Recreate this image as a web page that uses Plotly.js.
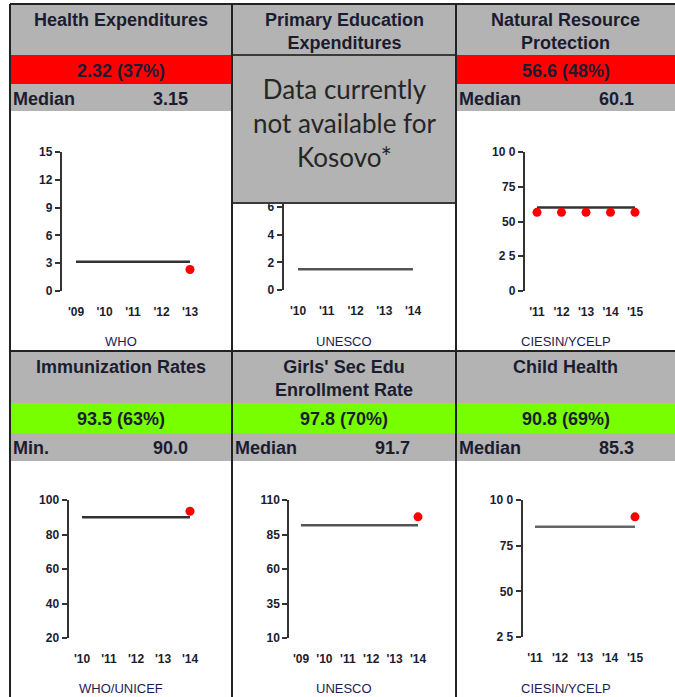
<!DOCTYPE html>
<html><head><meta charset="utf-8">
<script src="https://cdn.plot.ly/plotly-3.0.1.min.js"></script>
<style>html,body{margin:0;padding:0;background:#fff;}#chart{width:675px;height:697px;}</style>
</head><body><div id="chart"></div>
<script>
// ---- header texts ----
const panelTitles = ["Health Expenditures", "Primary Education<br>Expenditures", "Natural Resource<br>Protection",
                     "Immunization Rates", "Girls' Sec Edu<br>Enrollment Rate", "Child Health"];
const scoreLabels = ["2.32 (37%)", null, "56.6 (48%)", "93.5 (63%)", "97.8 (70%)", "90.8 (69%)"];
const benchmarkNames = ["Median", null, "Median", "Min.", "Median", "Median"];
const benchmarkLabels = ["3.15", null, "60.1", "90.0", "91.7", "85.3"];
const sources = ["WHO", "UNESCO", "CIESIN/YCELP", "WHO/UNICEF", "UNESCO", "CIESIN/YCELP"];
const unavailableNote = "Data currently<br>not available for<br>Kosovo*";

// ---- series ----
const healthYears = [2009, 2010, 2011, 2012, 2013];
const healthValues = [null, null, null, null, 2.32];
const healthMedian = 3.15;

const primaryEduYears = [2010, 2011, 2012, 2013, 2014];
const primaryEduValues = [null, null, null, null, null];
const primaryEduMedian = 1.5;

const natResYears = [2011, 2012, 2013, 2014, 2015];
const natResValues = [56.6, 56.6, 56.6, 56.6, 56.6];
const natResMedian = 60.1;

const immunYears = [2010, 2011, 2012, 2013, 2014];
const immunValues = [null, null, null, null, 93.5];
const immunMin = 90.0;

const girlsYears = [2009, 2010, 2011, 2012, 2013, 2014];
const girlsValues = [null, null, null, null, null, 97.8];
const girlsMedian = 91.7;

const childYears = [2011, 2012, 2013, 2014, 2015];
const childValues = [null, null, null, null, 90.8];
const childMedian = 85.3;

// ---- y tick labels ----
const healthYTicks = [0, 3, 6, 9, 12, 15];
const primaryEduYTicks = [0, 2, 4, 6, 8, 10];
const natResYTicks = [0, 25, 50, 75, 100];
const natResYTickText = ["0", "2 5", "50", "75", "10 0"];
const immunYTicks = [20, 40, 60, 80, 100];
const girlsYTicks = [10, 35, 60, 85, 110];
const childYTicks = [25, 50, 75, 100];
const childYTickText = ["2 5", "50", "75", "10 0"];

// ---- layout geometry (pixels) ----
const W = 675, H = 697;
const px = x => x / W, py = y => 1 - y / H;
const panels = [
  {years: healthYears, values: healthValues, ref: healthMedian, yt: healthYTicks, ytt: null, xd: [61.75, 204.25], yd: [152, 291], lc: '#333'},
  {years: primaryEduYears, values: primaryEduValues, ref: primaryEduMedian, yt: primaryEduYTicks, ytt: null, xd: [283.6, 427.4], yd: [152, 290], lc: '#555'},
  {years: natResYears, values: natResValues, ref: natResMedian, yt: natResYTicks, ytt: natResYTickText, xd: [524.75, 647.25], yd: [152, 291], lc: '#333'},
  {years: immunYears, values: immunValues, ref: immunMin, yt: immunYTicks, ytt: null, xd: [68.5, 203.5], yd: [500, 638], lc: '#333'},
  {years: girlsYears, values: girlsValues, ref: girlsMedian, yt: girlsYTicks, ytt: null, xd: [289.3, 429.7], yd: [500, 638], lc: '#555'},
  {years: childYears, values: childValues, ref: childMedian, yt: childYTicks, ytt: childYTickText, xd: [522.5, 647.5], yd: [500, 637], lc: '#666'}
];
const cols = [[10, 232], [232, 456], [456, 675]];
const TXT = '#1c1c30';
const GRAY = '#b3b3b3';
const FAM = 'Liberation Sans, Arial, sans-serif';

const data = [];
const layout = {
  width: W, height: H, margin: {l: 0, r: 0, t: 0, b: 0},
  paper_bgcolor: '#fff', plot_bgcolor: '#fff', showlegend: false,
  font: {family: FAM, color: TXT},
  shapes: [], annotations: []
};

panels.forEach((p, i) => {
  const n = i + 1, xa = 'x' + (n === 1 ? '' : n), ya = 'y' + (n === 1 ? '' : n);
  data.push({x: [p.years[0], p.years[p.years.length - 1]], y: [p.ref, p.ref], xaxis: xa, yaxis: ya,
             mode: 'lines', line: {color: p.lc, width: 2.5}, hoverinfo: 'skip'});
  data.push({x: p.years, y: p.values, xaxis: xa, yaxis: ya, mode: 'markers',
             marker: {color: '#ff0000', size: 9}, hoverinfo: 'skip'});
  const yMin = p.yt[0], yMax = p.yt[p.yt.length - 1];
  layout['xaxis' + (n === 1 ? '' : n)] = {
    domain: [px(p.xd[0]), px(p.xd[1])], anchor: ya,
    range: [p.years[0] - 0.5, p.years[p.years.length - 1] + 0.5],
    tickvals: p.years, ticktext: p.years.map(y => "'" + String(y).slice(2)),
    showgrid: false, zeroline: false, showline: false, ticks: '',
    ticklabelstandoff: 12,
    tickfont: {family: FAM, size: 12, color: TXT, weight: 700}
  };
  layout['yaxis' + (n === 1 ? '' : n)] = {
    domain: [py(p.yd[1]), py(p.yd[0])], anchor: xa,
    range: [yMin, yMax], tickvals: p.yt, ticktext: p.ytt || p.yt.map(String),
    showgrid: false, zeroline: false, showline: true, linecolor: '#333', linewidth: 2,
    ticks: 'outside', ticklen: 5, tickwidth: 2, tickcolor: '#333',
    tickfont: {family: FAM, size: 12, color: TXT, weight: 700}
  };
});

function rect(x0, y0, x1, y1, fill, line) {
  layout.shapes.push({type: 'rect', xref: 'paper', yref: 'paper', x0: px(x0), x1: px(x1), y0: py(y1), y1: py(y0),
    fillcolor: fill, line: line || {width: 0}, layer: 'above'});
}
function seg(x0, y0, x1, y1, color, width) {
  layout.shapes.push({type: 'line', xref: 'paper', yref: 'paper', x0: px(x0), x1: px(x1), y0: py(y0), y1: py(y1),
    line: {color: color, width: width}, layer: 'above'});
}
function text(t, x, y, opts) {
  layout.annotations.push(Object.assign({text: t, xref: 'paper', yref: 'paper', x: px(x), y: py(y),
    showarrow: false, xanchor: 'center', yanchor: 'middle',
    font: {family: FAM, size: 18, color: TXT, weight: 700}}, opts || {}));
}

const rows = [{top: 4, bar: [55, 84], med: [84, 111], color: '#ff0000', titleY: [20, 31.5], srcY: 341},
              {top: 352, bar: [403, 433], med: [433, 461], color: '#77ff00', titleY: [367, 378], srcY: 688}];

panels.forEach((p, i) => {
  const r = rows[Math.floor(i / 3)], c = cols[i % 3];
  const cx = (c[0] + c[1]) / 2;
  const twoLine = panelTitles[i].indexOf('<br>') >= 0;
  if (scoreLabels[i] === null) {
    rect(c[0], r.top, c[1], r.bar[0], GRAY);
    rect(c[0], r.bar[0], c[1], 203, GRAY, {color: '#3a3a3a', width: 2});
    text(unavailableNote, cx, 123, {font: {family: 'Lato, Open Sans, sans-serif', size: 26, color: '#262626'}});
  } else {
    rect(c[0], r.top, c[1], r.bar[0], GRAY);
    rect(c[0], r.bar[0], c[1], r.bar[1], r.color);
    rect(c[0], r.med[0], c[1], r.med[1], GRAY);
    text(scoreLabels[i], cx, (r.bar[0] + r.bar[1]) / 2 + 1);
    text(benchmarkNames[i], c[0] + 1, (r.med[0] + r.med[1]) / 2 + 1, {xanchor: 'left'});
    text(benchmarkLabels[i], c[0] + 180, (r.med[0] + r.med[1]) / 2 + 1, {xanchor: 'right'});
  }
  text(panelTitles[i], cx, twoLine ? r.titleY[1] : r.titleY[0]);
  text(sources[i], cx, r.srcY, {font: {family: FAM, size: 13, color: '#1c1c50'}});
});

// borders
seg(10, 4, 675, 4, '#222', 2);
seg(10, 351, 675, 351, '#222', 2);
seg(10, 4, 10, 697, '#222', 2);
seg(232, 4, 232, 697, '#222', 2);
seg(456, 4, 456, 697, '#222', 2);

Plotly.newPlot('chart', data, layout, {staticPlot: true, displayModeBar: false});
</script>
</body></html>
